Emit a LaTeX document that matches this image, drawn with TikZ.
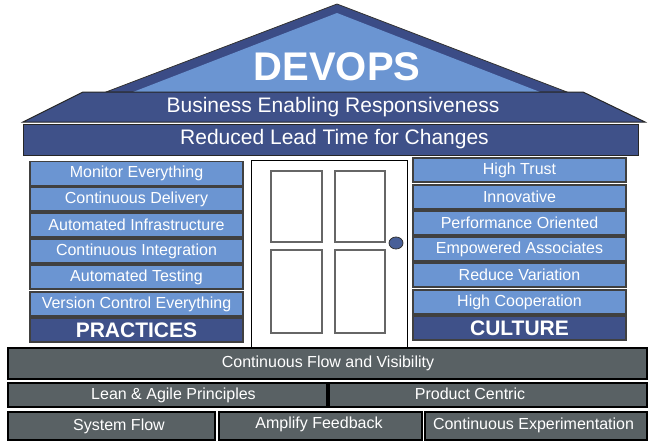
\documentclass[tikz,border=0pt]{standalone}
\usepackage{fontspec}
\setmainfont{Liberation Sans}
\definecolor{navy}{HTML}{3F5189}
\definecolor{roofdark}{HTML}{3B4C86}
\definecolor{lblue}{HTML}{6B95D2}
\definecolor{slate}{HTML}{596164}
\begin{document}
\begin{tikzpicture}[x=1pt,y=-1pt,
  lbl/.style={text=white, inner sep=0pt, font=\fontsize{16}{18}\selectfont},
  pbox/.style={draw=black!75, line width=1.2pt, fill=lblue, minimum width=213pt,
    minimum height=24pt, inner sep=0pt, text=white, font=\fontsize{16}{18}\selectfont},
  hbox/.style={pbox, fill=navy, font=\bfseries\fontsize{21}{22}\selectfont},
  gbox/.style={draw=black, line width=1.2pt, fill=slate, inner sep=0pt},
  panel/.style={draw=black!60, line width=1.3pt, fill=white},
  bigtext/.style={text=white, inner sep=0pt, font=\fontsize{21}{22}\selectfont}]
\useasboundingbox (0,0) rectangle (652,447);
% roof
\draw[fill=roofdark, draw=black!80, line width=0.8pt] (106,92) -- (337,4) -- (567,92) -- cycle;
\fill[lblue] (133,92) -- (337,13) -- (540,92) -- cycle;
\node[text=white, inner sep=0pt, font=\bfseries\fontsize{40}{40}\selectfont] (devops) at (337,67) {DEVOPS};
% trapezoid
\draw[fill=navy, draw=black!85, line width=1pt] (83,92) -- (583,92) -- (645,122) -- (23,122) -- cycle;
\node[bigtext] (ber) at (333,107) {Business Enabling Responsiveness};
% bar
\node[draw=black!85, line width=1pt, fill=navy, minimum width=615pt, minimum height=31pt, inner sep=0pt] (rlt) at (330.5,139.5) {};
\node[bigtext] (rltt) at (334.5,139.5) {Reduced Lead Time for Changes};
% door
\node[draw=black, line width=0.8pt, fill=white, minimum width=156pt, minimum height=190pt, inner sep=0pt] (door) at (329,255) {};
\node[panel, minimum width=51pt, minimum height=71pt, inner sep=0pt] (p1) at (296.5,206.5) {};
\node[panel, minimum width=50pt, minimum height=71pt, inner sep=0pt] (p2) at (360,206.5) {};
\node[panel, minimum width=51pt, minimum height=83pt, inner sep=0pt] (p3) at (296.5,291.5) {};
\node[panel, minimum width=50pt, minimum height=83pt, inner sep=0pt] (p4) at (360,291.5) {};
\draw[fill=navy!80!lblue, draw=black!80, line width=0.8pt] (396,243) ellipse (7pt and 6pt);
% practices
\node[pbox] (m1) at (136.5,173.5) {Monitor Everything};
\node[pbox] (m2) at (136.5,199) {Continuous Delivery};
\node[pbox] (m3) at (136.5,225) {Automated Infrastructure};
\node[pbox] (m4) at (136.5,251) {Continuous Integration};
\node[pbox] (m5) at (136.5,277) {Automated Testing};
\node[pbox] (m6) at (136.5,304) {Version Control Everything};
\node[hbox] (m7) at (136.5,330) {PRACTICES};
% culture
\node[pbox] (c1) at (519.5,170) {High Trust};
\node[pbox] (c2) at (519.5,197) {Innovative};
\node[pbox] (c3) at (519.5,223) {Performance Oriented};
\node[pbox] (c4) at (519.5,249) {Empowered Associates};
\node[pbox] (c5) at (519.5,275) {Reduce Variation};
\node[pbox] (c6) at (519.5,302) {High Cooperation};
\node[hbox] (c7) at (519.5,328) {CULTURE};
% foundation
\node[gbox, minimum width=639pt, minimum height=31pt] (cfv) at (327.5,363.5) {};
\node[lbl] at (328,363) {Continuous Flow and Visibility};
\node[gbox, minimum width=319pt, minimum height=24pt] (lap) at (167.5,395) {};
\node[lbl] at (173.5,395) {Lean \& Agile Principles};
\node[gbox, minimum width=318pt, minimum height=24pt] (pc) at (488,395) {};
\node[lbl] at (470,394) {Product Centric};
\node[gbox, minimum width=207pt, minimum height=28pt] (sf) at (111.5,426) {};
\node[lbl] at (119,426) {System Flow};
\node[gbox, minimum width=203pt, minimum height=28pt] (af) at (320.5,426) {};
\node[lbl] at (319,424) {Amplify Feedback};
\node[gbox, minimum width=222pt, minimum height=28pt] (ce) at (536,426) {};
\node[lbl] at (533.5,425) {Continuous Experimentation};
\end{tikzpicture}
\end{document}
